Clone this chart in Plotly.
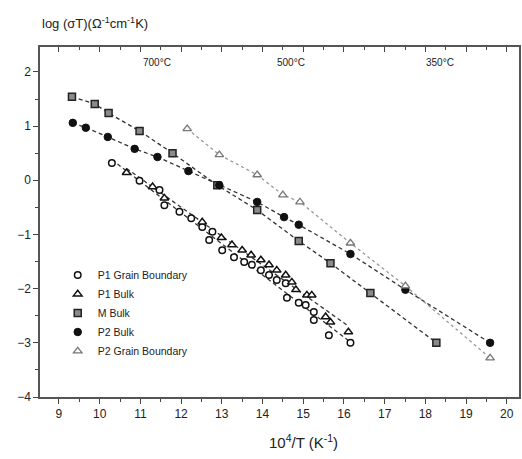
import numpy as np
import plotly.graph_objects as go

# 10^4/T (K^-1) and log(sigma*T) for each sample / contribution
p1_gb_x = [10.30, 10.98, 11.47, 11.59, 11.96, 12.25, 12.52, 12.69, 12.77, 13.01, 13.30, 13.55,
           13.74, 13.96, 14.16, 14.35, 14.57, 14.60, 14.89, 15.06, 15.26, 15.26, 15.63, 16.16]
p1_gb_y = [0.32, -0.01, -0.18, -0.46, -0.58, -0.70, -0.86, -1.10, -0.95, -1.29, -1.42, -1.51,
           -1.56, -1.66, -1.75, -1.84, -1.90, -2.17, -2.26, -2.30, -2.43, -2.58, -2.86, -3.00]

p1_bulk_x = [10.66, 11.30, 11.59, 12.52, 12.99, 13.25, 13.50, 13.72, 13.96, 14.16, 14.35,
             14.57, 14.72, 14.82, 15.09, 15.21, 15.55, 15.67, 16.11]
p1_bulk_y = [0.14, -0.12, -0.33, -0.77, -1.06, -1.19, -1.29, -1.38, -1.47, -1.56, -1.66,
             -1.75, -1.88, -2.02, -2.12, -2.12, -2.52, -2.62, -2.80]

m_bulk_x = [9.32, 9.88, 10.22, 10.98, 11.79, 12.89, 13.87, 14.89, 15.67, 16.65, 18.27]
m_bulk_y = [1.54, 1.41, 1.24, 0.91, 0.50, -0.09, -0.55, -1.12, -1.53, -2.08, -3.00]

p2_bulk_x = [9.34, 9.66, 10.20, 10.86, 11.42, 12.18, 12.94, 13.87, 14.53, 14.89, 16.16, 17.51, 19.59]
p2_bulk_y = [1.06, 0.97, 0.80, 0.58, 0.43, 0.17, -0.09, -0.40, -0.68, -0.82, -1.36, -2.02, -3.00]

p2_gb_x = [12.15, 12.94, 13.87, 14.50, 14.92, 16.16, 17.51, 19.59]
p2_gb_y = [0.95, 0.47, 0.10, -0.27, -0.40, -1.16, -1.95, -3.28]

# Celsius reference labels along the top axis
celsius_labels = ["700°C", "500°C", "350°C"]
celsius_at = [11.40, 14.70, 18.36]

FONT = "Liberation Sans, Arial, sans-serif"
fig = go.Figure()

DASH = "4px,3px"


def fit_line(xs, ys, color, dash, width=1.3):
    k, b = np.polyfit(xs, ys, 1)
    xx = np.array([min(xs), max(xs)])
    fig.add_trace(go.Scatter(x=xx, y=k * xx + b, mode="lines", showlegend=False,
                             line=dict(color=color, dash=dash, width=width), hoverinfo="skip"))


def joined_line(xs, ys, color, dash, width=1.3):
    fig.add_trace(go.Scatter(x=xs, y=ys, mode="lines", showlegend=False,
                             line=dict(color=color, dash=dash, width=width), hoverinfo="skip"))


# guide lines under the markers
fit_line(p1_gb_x, p1_gb_y, "#333", DASH)
fit_line(p1_bulk_x, p1_bulk_y, "#333", DASH)
joined_line(m_bulk_x, m_bulk_y, "#333", DASH)
joined_line(p2_bulk_x, p2_bulk_y, "#333", DASH)
joined_line(p2_gb_x, p2_gb_y, "#999", "dot")

fig.add_trace(go.Scatter(x=p1_gb_x, y=p1_gb_y, mode="markers", name="P1 Grain Boundary",
                         marker=dict(symbol="circle", size=6.5, color="white",
                                     line=dict(color="#111", width=1.5))))
fig.add_trace(go.Scatter(x=p1_bulk_x, y=p1_bulk_y, mode="markers", name="P1 Bulk",
                         marker=dict(symbol="triangle-up", size=7.5, color="white",
                                     line=dict(color="#111", width=1.5))))
fig.add_trace(go.Scatter(x=m_bulk_x, y=m_bulk_y, mode="markers", name="M Bulk",
                         marker=dict(symbol="square", size=7, color="#8a8a8a",
                                     line=dict(color="#222", width=1.5))))
fig.add_trace(go.Scatter(x=p2_bulk_x, y=p2_bulk_y, mode="markers", name="P2 Bulk",
                         marker=dict(symbol="circle", size=7.5, color="#111",
                                     line=dict(color="#111", width=1))))
fig.add_trace(go.Scatter(x=p2_gb_x, y=p2_gb_y, mode="markers", name="P2 Grain Boundary",
                         marker=dict(symbol="triangle-up", size=7.5, color="white",
                                     line=dict(color="#777", width=1.3))))

# invisible trace to carry the top axis
fig.add_trace(go.Scatter(x=[9, 20], y=[0, 0], xaxis="x2", mode="markers",
                         marker=dict(opacity=0), showlegend=False, hoverinfo="skip"))

xr = [8.535, 20.30]
yr = [-4.0, 2.46]
axis_font = dict(family=FONT, size=12, color="#222")

fig.update_layout(
    width=522, height=459,
    margin=dict(l=40, r=1, t=47, b=62),
    paper_bgcolor="white", plot_bgcolor="white",
    font=dict(family=FONT, color="#222"),
    xaxis=dict(range=xr, tickmode="linear", tick0=9, dtick=1, ticks="outside", ticklen=5,
               tickwidth=1.2, tickcolor="#444", showline=True, linecolor="#555", linewidth=1.5,
               showgrid=False, zeroline=False, tickfont=axis_font,
               minor=dict(dtick=0.5, ticks="outside", ticklen=3, tickcolor="#444")),
    xaxis2=dict(range=xr, overlaying="x", side="top", tickmode="linear", tick0=9, dtick=1,
                ticks="inside", ticklen=5, tickcolor="#444", showticklabels=False,
                showline=True, linecolor="#555", linewidth=1.5, showgrid=False, zeroline=False,
                minor=dict(dtick=0.5, ticks="inside", ticklen=3, tickcolor="#444")),
    yaxis=dict(range=yr, tickmode="linear", tick0=-4, dtick=1, ticks="outside", ticklen=5,
               tickwidth=1.2, tickcolor="#444", showline=True, linecolor="#555", linewidth=1.5,
               mirror=True, showgrid=False, zeroline=False, tickfont=axis_font,
               minor=dict(dtick=0.5, ticks="outside", ticklen=3, tickcolor="#444")),
    legend=dict(x=0.037, y=0.39, xanchor="left", yanchor="top", bgcolor="rgba(0,0,0,0)",
                font=dict(family=FONT, size=10.5, color="#222"), tracegroupgap=0,
                itemwidth=30),
    showlegend=True,
)

fig.add_annotation(text="log (σT)(Ω<sup>-1</sup>cm<sup>-1</sup>K)", x=0.0, y=1.0,
                   xref="paper", yref="paper", xanchor="left", yanchor="bottom", yshift=14,
                   showarrow=False, font=dict(family=FONT, size=13, color="#222"))
fig.add_annotation(text="10<sup>4</sup>/T (K<sup>-1</sup>)", xref="paper", yref="paper",
                   x=0.55, y=-0.095, xanchor="center", yanchor="top", showarrow=False,
                   font=dict(family=FONT, size=15, color="#222"))
for lab, pos in zip(celsius_labels, celsius_at):
    fig.add_annotation(text=lab, x=pos, y=1.0, xref="x", yref="paper", yanchor="top",
                       yshift=-8, showarrow=False, font=dict(family=FONT, size=10, color="#222"))

fig.write_html("out.html")
